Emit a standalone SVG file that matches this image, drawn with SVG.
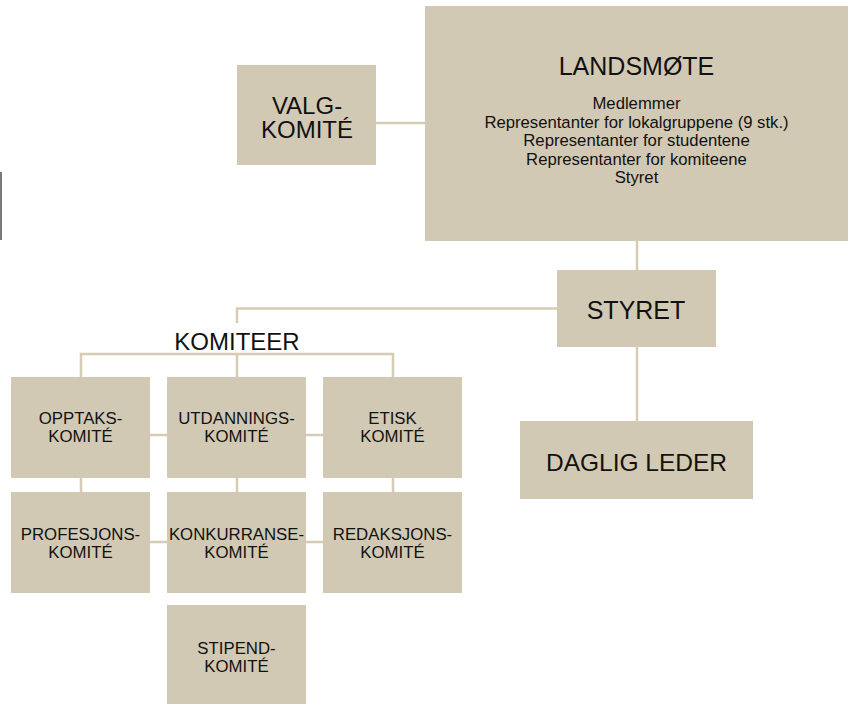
<svg xmlns="http://www.w3.org/2000/svg" width="856" height="704" viewBox="0 0 856 704">
<style>
.box{fill:#d2c9b4}
.t{font-family:"Liberation Sans",Arial,sans-serif;fill:#111;text-anchor:middle}
.big{font-size:25px}
.mid{font-size:24px}
.sm{font-size:16.8px}
.desc{font-size:16.7px}
.c{stroke:#d6cbb5;stroke-width:2.5;fill:none}
</style>
<rect x="0" y="172" width="2" height="68" fill="#7a7a7a"/>
<g id="connectors">
<line class="c" x1="376" y1="123" x2="425" y2="123"/>
<line class="c" x1="637" y1="241" x2="637" y2="270"/>
<line class="c" x1="637" y1="347" x2="637" y2="421"/>
<polyline class="c" points="557,308.5 237,308.5 237,323"/>
<polyline class="c" points="81,377 81,354 393,354 393,377"/>
<line class="c" x1="237" y1="354" x2="237" y2="377"/>
<line class="c" x1="150" y1="435" x2="167" y2="435"/>
<line class="c" x1="306" y1="435" x2="323" y2="435"/>
<line class="c" x1="150" y1="542" x2="167" y2="542"/>
<line class="c" x1="306" y1="542" x2="323" y2="542"/>
<line class="c" x1="81" y1="478" x2="81" y2="492"/>
<line class="c" x1="237" y1="478" x2="237" y2="492"/>
<line class="c" x1="393" y1="478" x2="393" y2="492"/>
</g>
<g id="landsmote">
<rect class="box" x="425" y="6" width="423" height="235"/>
<text class="t big" x="636.5" y="75">LANDSMØTE</text>
<text class="t desc" x="636.5" y="109">Medlemmer</text>
<text class="t desc" x="636.5" y="127.5">Representanter for lokalgruppene (9 stk.)</text>
<text class="t desc" x="636.5" y="146">Representanter for studentene</text>
<text class="t desc" x="636.5" y="164.5">Representanter for komiteene</text>
<text class="t desc" x="636.5" y="183">Styret</text>
</g>
<g id="valgkomite">
<rect class="box" x="237" y="65" width="139" height="100"/>
<text class="t mid" x="307" y="114">VALG-</text>
<text class="t mid" x="307" y="138">KOMITÉ</text>
</g>
<g id="styret">
<rect class="box" x="557" y="270" width="159" height="77"/>
<text class="t big" x="636" y="318.5">STYRET</text>
</g>
<g id="dagligleder">
<rect class="box" x="520" y="421" width="233" height="78"/>
<text class="t" style="font-size:24.5px" x="636.5" y="471">DAGLIG LEDER</text>
</g>
<g id="komiteer-label">
<text class="t" style="font-size:24px" x="237" y="350">KOMITEER</text>
</g>
<g id="opptak">
<rect class="box" x="11" y="377" width="139" height="101"/>
<text class="t sm" x="80.5" y="424">OPPTAKS-</text>
<text class="t sm" x="80.5" y="442">KOMITÉ</text>
</g>
<g id="utdanning">
<rect class="box" x="167" y="377" width="139" height="101"/>
<text class="t sm" x="236.5" y="424">UTDANNINGS-</text>
<text class="t sm" x="236.5" y="442">KOMITÉ</text>
</g>
<g id="etisk">
<rect class="box" x="323" y="377" width="139" height="101"/>
<text class="t sm" x="392.5" y="424">ETISK</text>
<text class="t sm" x="392.5" y="442">KOMITÉ</text>
</g>
<g id="profesjon">
<rect class="box" x="11" y="492" width="139" height="101"/>
<text class="t sm" x="80.5" y="540">PROFESJONS-</text>
<text class="t sm" x="80.5" y="558">KOMITÉ</text>
</g>
<g id="konkurranse">
<rect class="box" x="167" y="492" width="139" height="101"/>
<text class="t sm" x="236.5" y="540">KONKURRANSE-</text>
<text class="t sm" x="236.5" y="558">KOMITÉ</text>
</g>
<g id="redaksjon">
<rect class="box" x="323" y="492" width="139" height="101"/>
<text class="t sm" x="392.5" y="540">REDAKSJONS-</text>
<text class="t sm" x="392.5" y="558">KOMITÉ</text>
</g>
<g id="stipend">
<rect class="box" x="167" y="605" width="139" height="101"/>
<text class="t sm" x="236.5" y="654">STIPEND-</text>
<text class="t sm" x="236.5" y="672">KOMITÉ</text>
</g>
</svg>
